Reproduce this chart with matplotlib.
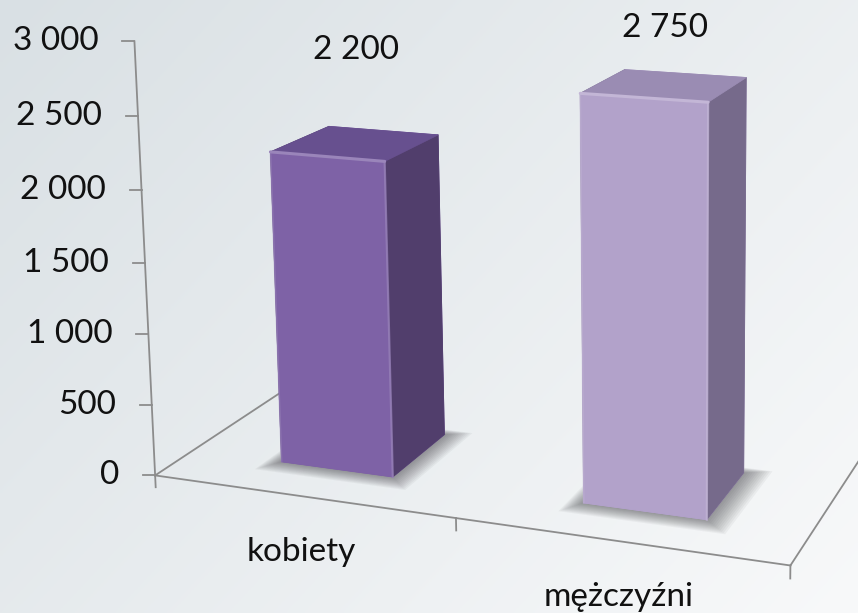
import numpy as np
import matplotlib
matplotlib.use('Agg')
import matplotlib.pyplot as plt
from matplotlib.lines import Line2D
from matplotlib.colors import to_rgb
from mpl_toolkits.mplot3d import proj3d
from mpl_toolkits.mplot3d.art3d import Poly3DCollection

# ---------------- data ----------------
categories = ['kobiety', 'mężczyźni']
values = [2200, 2750]
value_labels = ['2 200', '2 750']
yticks = [0, 500, 1000, 1500, 2000, 2500, 3000]
ytick_labels = ['0', '500', '1 000', '1 500', '2 000', '2 500', '3 000']
front_colors = ['#7e62a6', '#b2a2ca']
side_colors = ['#513e6c', '#766a8b']
top_colors = ['#67508f', '#9a8cb3']

# ---------------- layout params ----------------
W, H = 858, 613
DEPTH = 1.2
BAR_W = 0.38
BAR_D = 0.37
BAR_Y0 = 0.22
ELEV, AZIM, FOCAL = 10.3, -71.4, 0.62
ZOOM = 2.19
XMAX, ZMAX = 2.92, 5900          # view box (camera aims at its centre)
ZUNIT = 0.447 / 1000             # z data unit in x-units
AX_RECT = [0.275, 0.417, 1.0, 1.0]
FONT = 'Lato'
FS = 24
TXT = '#111111'

fig = plt.figure(figsize=(W / 100, H / 100), dpi=100)

bg = fig.add_axes([0, 0, 1, 1])
bg.set_axis_off()
gx, gy = np.meshgrid(np.linspace(0, 1, 256), np.linspace(0, 1, 256))
t = np.clip(0.6 * gx + 0.4 * gy, 0, 1)
c0 = np.array([0xd9, 0xe0, 0xe4]) / 255
c1 = np.array([0xf8, 0xf9, 0xfa]) / 255
img = c0[None, None, :] * (1 - t[..., None]) + c1[None, None, :] * t[..., None]
bg.imshow(img, extent=[0, 1, 0, 1], aspect='auto', origin='upper')
bg.set_xlim(0, 1)
bg.set_ylim(0, 1)

ax = fig.add_axes(AX_RECT, projection='3d', computed_zorder=False)
ax.patch.set_alpha(0)
ax.set_proj_type('persp', focal_length=FOCAL)
ax.view_init(elev=ELEV, azim=AZIM)
ax.set_xlim(0, XMAX)
ax.set_ylim(0, DEPTH)
ax.set_zlim(0, ZMAX)
ax.set_box_aspect((XMAX, DEPTH, ZMAX * ZUNIT), zoom=ZOOM)
ax.set_axis_off()

axis_col = '#8c8c8c'
n = len(categories)
lines = []
lines += ax.plot([0, n], [0, 0], [0, 0], color=axis_col, lw=1.3, zorder=1)
lines += ax.plot([0, 0], [0, DEPTH], [0, 0], color=axis_col, lw=1.3, zorder=1)
lines += ax.plot([n, n], [0, DEPTH], [0, 0], color=axis_col, lw=1.3, zorder=1)
lines += ax.plot([0, 0], [0, 0], [0, yticks[-1]], color=axis_col, lw=1.3, zorder=1)
for i in range(n + 1):
    lines += ax.plot([i, i], [0, 0], [0, -85], color=axis_col, lw=1.3, zorder=1)
for ln in lines:
    ln.set_clip_on(False)


def lighten(c, f):
    r = np.array(to_rgb(c))
    return tuple(r + (1 - r) * f)

for i, v in enumerate(values):
    x0 = i + 0.5 - BAR_W / 2
    # soft floor shadow
    for m in np.linspace(0.08, 0.005, 12):
        xa, xb = x0 - m * 0.6, x0 + BAR_W + m
        ya, yb = BAR_Y0 - m, BAR_Y0 + BAR_D + m * 0.5
        sh = Poly3DCollection([[(xa, ya, 0), (xb, ya, 0), (xb, yb, 0), (xa, yb, 0)]],
                              facecolor=(0.2, 0.2, 0.22, 0.05), edgecolor='none',
                              zorder=2)
        sh.set_clip_on(False)
        ax.add_collection3d(sh)
    cols = [front_colors[i], top_colors[i], front_colors[i], front_colors[i],
            side_colors[i], side_colors[i]]
    pc = ax.bar3d(x0, BAR_Y0, 0, BAR_W, BAR_D, v, color=cols, shade=False,
                  edgecolor=cols, linewidth=0.6, zorder=3 + 2 * i)
    pc.set_clip_on(False)
    hl = lighten(front_colors[i], 0.22)
    e1 = ax.plot([x0, x0 + BAR_W], [BAR_Y0, BAR_Y0], [v, v], color=hl, lw=2.2,
                 solid_capstyle='round', zorder=4 + 2 * i)
    e2 = ax.plot([x0 + BAR_W, x0 + BAR_W], [BAR_Y0, BAR_Y0], [0, v], color=hl,
                 lw=1.6, alpha=0.7, zorder=4 + 2 * i)
    e3 = ax.plot([x0, x0], [BAR_Y0, BAR_Y0], [0, v], color=hl, lw=1.2, alpha=0.5,
                 zorder=4 + 2 * i)
    for ln in e1 + e2 + e3:
        ln.set_clip_on(False)

fig.canvas.draw()
M = ax.get_proj()


def to_px(x, y, z):
    xs, ys, _ = proj3d.proj_transform(x, y, z, M)
    return ax.transData.transform((xs, ys))

for v, lab in zip(yticks, ytick_labels):
    px, py = to_px(0, 0, v)
    fig.add_artist(Line2D([px - 12, px], [py, py], color=axis_col, lw=1.3, transform=None))
    fig.text(px - 36, py, lab, ha='right', va='center', fontsize=FS,
             family=FONT, color=TXT, transform=None)

for i, lab in enumerate(categories):
    px, py = to_px(i + 0.5, 0, 0)
    fig.text(px, py - 56, lab, ha='center', va='center', fontsize=FS,
             family=FONT, color=TXT, transform=None)

for i, (v, lab) in enumerate(zip(values, value_labels)):
    mx, _ = to_px(i + 0.5, BAR_Y0 + BAR_D / 2, v)
    _, by = to_px(i + 0.5, BAR_Y0 + BAR_D, v)
    ly = min(by + 81, H - 28)
    fig.text(mx, ly, lab, ha='center', va='center', fontsize=FS,
             family=FONT, color=TXT, transform=None)

fig.savefig('out.png', dpi=100)
